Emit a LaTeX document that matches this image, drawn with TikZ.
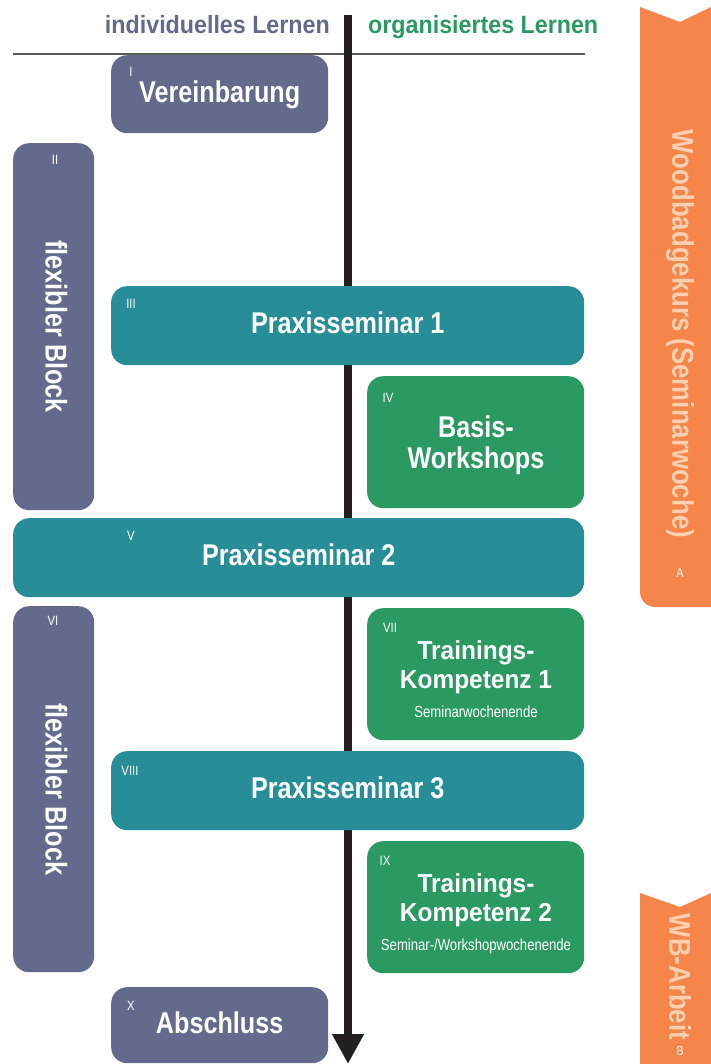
\documentclass[tikz,border=0pt]{standalone}
\usepackage{fontspec}
\setmainfont{Liberation Sans}[FakeStretch=0.84]
\newfontfamily\headfont{Liberation Sans}[FakeStretch=0.93]
\newfontfamily\tabfont{Liberation Sans}[FakeStretch=0.86]
\newfontfamily\trainfont{Liberation Sans}[FakeStretch=0.94]
\newfontfamily\notefont{Liberation Sans}[FakeStretch=0.82]
\usetikzlibrary{arrows.meta}
\definecolor{slate}{HTML}{636A8B}
\definecolor{petrol}{HTML}{278D97}
\definecolor{grn}{HTML}{2B9962}
\definecolor{tab}{HTML}{F5854A}
\definecolor{peach}{HTML}{FBD0B0}
\definecolor{rulegray}{HTML}{5A5A5A}
\definecolor{ink}{HTML}{231F20}
\begin{document}
\begin{tikzpicture}[x=1pt,y=-1pt,
  blk/.style={rectangle, rounded corners=16pt, inner sep=0pt, text=white,
    font=\fontsize{30}{30}\selectfont\bfseries, anchor=north west,
    text height=21pt, text depth=5pt},
  line/.style={text=white, font=\fontsize{30}{30}\selectfont\bfseries, inner sep=0pt, anchor=base},
  tline/.style={text=white, font=\trainfont\fontsize{26}{26}\selectfont\bfseries, inner sep=0pt, anchor=base},
  subline/.style={text=white, font=\notefont\fontsize{16}{16}\selectfont, inner sep=0pt, anchor=base},
  num/.style={text=white, font=\fontsize{13.5}{13.5}\selectfont, inner sep=0pt},
  head/.style={font=\headfont\fontsize{25}{25}\selectfont\bfseries, inner sep=0pt},
  tabtext/.style={rotate=-90, text=peach, font=\tabfont\fontsize{30}{30}\selectfont\bfseries, inner sep=0pt},
  tabletter/.style={text=white, font=\fontsize{13}{13}\selectfont, inner sep=0pt}
]
\useasboundingbox (0,0) rectangle (711,1064);
\clip (0,0) rectangle (711,1064);

% headings and rule
\node[head, text=slate, anchor=base east] (hind) at (330,34) {individuelles Lernen};
\node[head, text=grn, anchor=base west] (horg) at (368,34) {organisiertes Lernen};
\coordinate (rl) at (13,54);
\coordinate (rr) at (585,54);
\draw[rulegray, line width=1.2pt] (rl) -- (rr);

% time axis
\coordinate (axtop) at (348,15);
\coordinate (axend) at (348,1064);
\draw[ink, line width=8pt, -{Triangle[length=30pt,width=30pt]}] (axtop) -- (axend);

% orange side tabs
\fill[tab] (640,7) -- (680,22) -- (711,7) -- (711,300) -- (640,300) -- cycle;
\fill[tab, rounded corners=15pt] (640,200) rectangle (740,607);
\fill[tab] (640,893) -- (680,907) -- (711,893) -- (711,1000) -- (640,1000) -- cycle;
\fill[tab, rounded corners=15pt] (640,950) rectangle (740,1100);
\node[tabtext] (wbk) at (680,334) {Woodbadgekurs (Seminarwoche)};
\node[tabletter] (ta) at (680,573) {A};
\node[tabtext] (wba) at (680,977) {WB-Arbeit};
\node[tabletter] (tb) at (680,1051) {B};

% blocks
\node[blk, fill=slate, minimum width=217pt, minimum height=78pt] (vb) at (111,55) {Vereinbarung};
\node[blk, fill=slate, minimum width=81pt, minimum height=367pt] (fb1) at (13,143) {};
\node[blk, fill=petrol, minimum width=473pt, minimum height=79pt] (ps1) at (111,286) {Praxisseminar 1};
\node[blk, fill=grn, minimum width=217pt, minimum height=132pt] (bw) at (367,376) {};
\node[blk, fill=petrol, minimum width=571pt, minimum height=79pt] (ps2) at (13,518) {Praxisseminar 2};
\node[blk, fill=slate, minimum width=81pt, minimum height=366pt] (fb2) at (13,606) {};
\node[blk, fill=grn, minimum width=217pt, minimum height=132pt] (tk1) at (367,608) {};
\node[blk, fill=petrol, minimum width=473pt, minimum height=79pt] (ps3) at (111,751) {Praxisseminar 3};
\node[blk, fill=grn, minimum width=217pt, minimum height=132pt] (tk2) at (367,841) {};
\node[blk, fill=slate, minimum width=217pt, minimum height=76pt] (ab) at (111,987) {Abschluss};

% rotated texts of the flexible blocks
\node[blk, anchor=center, rotate=-90] (fb1t) at (fb1.center) {flexibler Block};
\node[blk, anchor=center, rotate=-90] (fb2t) at (fb2.center) {flexibler Block};

% multi-line texts of the green blocks
\node[line] (bw1) at (476,437) {Basis-};
\node[line] (bw2) at (476,468) {Workshops};
\node[tline] (tk1a) at (476,659) {Trainings-};
\node[tline] (tk1b) at (476,688) {Kompetenz 1};
\node[subline] (tk1c) at (476,717) {Seminarwochenende};
\node[tline] (tk2a) at (476,892) {Trainings-};
\node[tline] (tk2b) at (476,921) {Kompetenz 2};
\node[subline] (tk2c) at (476,950) {Seminar-/Workshopwochenende};

% step numbers
\node[num] (n1) at (131,72) {I};
\node[num] (n2) at (55,160) {II};
\node[num] (n3) at (131,304) {III};
\node[num] (n4) at (388,398) {IV};
\node[num] (n5) at (131,536) {V};
\node[num] (n6) at (53,621) {VI};
\node[num] (n7) at (390,628) {VII};
\node[num] (n8) at (130,771) {VIII};
\node[num] (n9) at (385,861) {IX};
\node[num] (n10) at (131,1006) {X};
\end{tikzpicture}
\end{document}
